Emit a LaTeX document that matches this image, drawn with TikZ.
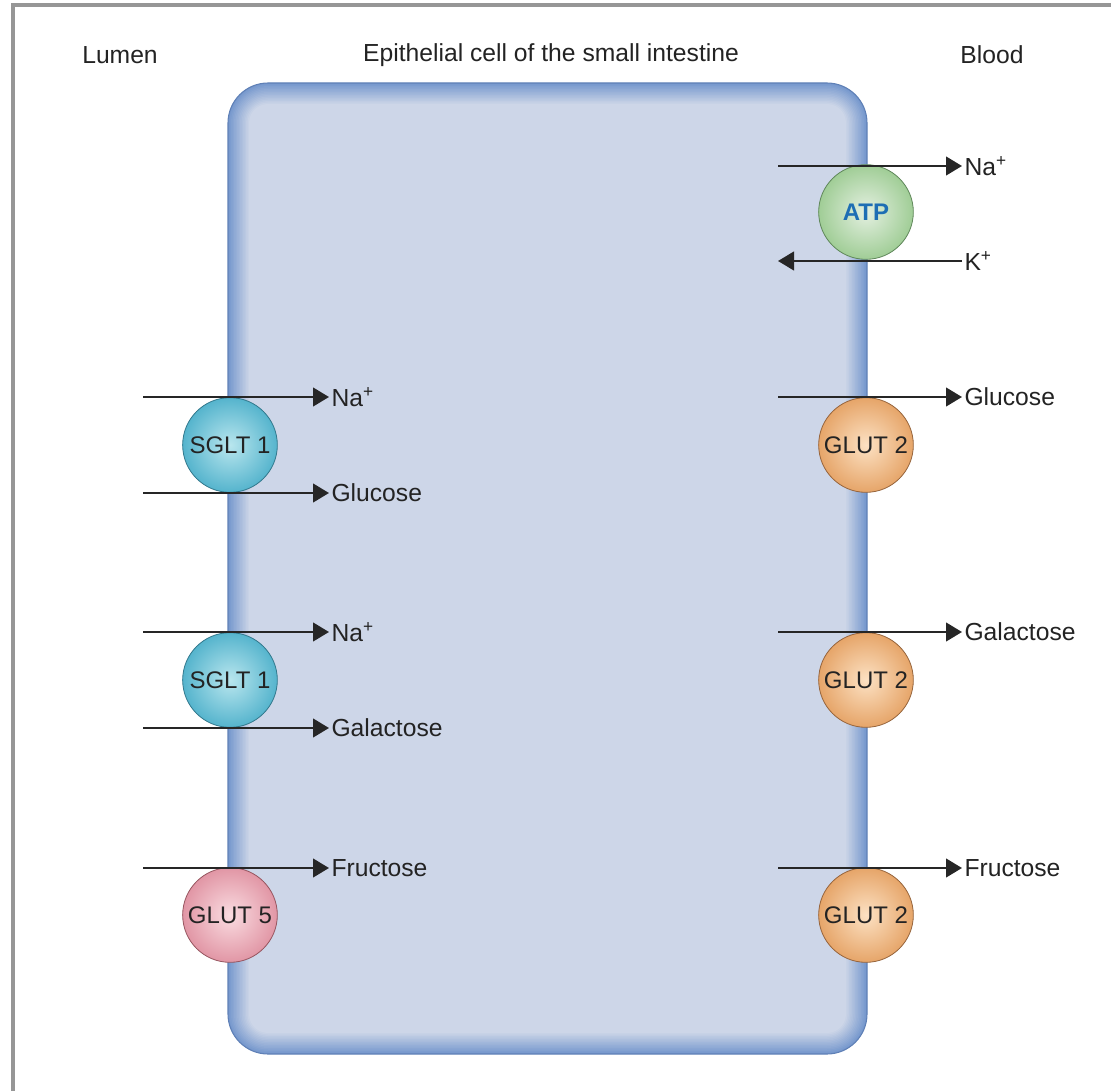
\documentclass[tikz,border=0pt]{standalone}
\usepackage{fontspec}
\setmainfont{Liberation Sans}
\usetikzlibrary{arrows.meta}

\definecolor{frameGray}{RGB}{150,150,150}
\definecolor{cellEdge}{RGB}{118,152,205}
\definecolor{cellFill}{RGB}{205,214,232}
\definecolor{cellLine}{RGB}{95,128,182}
\definecolor{txtGray}{RGB}{35,35,35}
\definecolor{sgltIn}{RGB}{185,230,238}
\definecolor{sgltOut}{RGB}{85,180,205}
\definecolor{sgltLine}{RGB}{50,120,140}
\definecolor{glutFiveIn}{RGB}{250,220,225}
\definecolor{glutFiveOut}{RGB}{225,150,165}
\definecolor{glutFiveLine}{RGB}{150,85,95}
\definecolor{glutTwoIn}{RGB}{252,225,195}
\definecolor{glutTwoOut}{RGB}{230,165,105}
\definecolor{glutTwoLine}{RGB}{150,100,60}
\definecolor{atpIn}{RGB}{228,240,225}
\definecolor{atpOut}{RGB}{160,205,150}
\definecolor{atpLine}{RGB}{95,135,90}
\definecolor{atpText}{RGB}{30,110,180}

\tikzset{every picture/.style={line width=0.75pt}}
\tikzset{
  lbl/.style={font=\fontsize{18.5}{22}\selectfont, text=txtGray, anchor=west, inner sep=1.5pt},
  head/.style={font=\fontsize{18.5}{22}\selectfont, text=txtGray},
  flow/.style={line width=1.7pt, draw=black!85, -{Triangle[length=12pt,width=14pt]}},
  carrier/.style={circle, minimum size=71pt, inner sep=0pt, line width=0.6pt,
    font=\fontsize{18}{22}\selectfont, text=txtGray},
  sglt/.style={carrier, draw=sgltLine, inner color=sgltIn, outer color=sgltOut},
  glutfive/.style={carrier, draw=glutFiveLine, inner color=glutFiveIn, outer color=glutFiveOut},
  gluttwo/.style={carrier, draw=glutTwoLine, inner color=glutTwoIn, outer color=glutTwoOut},
  atpump/.style={carrier, draw=atpLine, inner color=atpIn, outer color=atpOut,
    font=\fontsize{18}{22}\selectfont\bfseries, text=atpText},
}

\begin{document}
\begin{tikzpicture}[x=0.75pt,y=0.75pt,yscale=-1,xscale=1]
\useasboundingbox (0,0) rectangle (1111,1091);

%Frame
\draw [frameGray, line width=2.5pt] (13,1091) -- (13,5) -- (1111,5) ;

%Cell body with soft edge
\foreach \i in {0,...,14}{
  \pgfmathsetmacro{\d}{\i*1.5}
  \pgfmathsetmacro{\p}{\i*100/14}
  \fill [cellFill!\p!cellEdge, rounded corners={(40-\d)*0.75pt}] (228+\d,83+\d) rectangle (867-\d,1054-\d) ;
}
\draw [cellLine, line width=0.8pt, rounded corners=30pt] (228,83) rectangle (867,1054) ;

%Headings
\node [head] (lumen) at (120,55) {Lumen};
\node [head] (cell) at (551,55) {Epithelial cell of the small intestine};
\node [head] (blood) at (992,55) {Blood};

%Carriers
\node [atpump] (atp) at (866,212) {ATP};
\node [sglt] (sgltA) at (230,445) {SGLT 1};
\node [sglt] (sgltB) at (230,680) {SGLT 1};
\node [glutfive] (glutF) at (230,915) {GLUT 5};
\node [gluttwo] (glutA) at (866,445) {GLUT 2};
\node [gluttwo] (glutB) at (866,680) {GLUT 2};
\node [gluttwo] (glutC) at (866,915) {GLUT 2};

%Labels, lumen side
\node [lbl] (naA) at (329,397) {Na\textsuperscript{+}};
\node [lbl] (gluA) at (329,493) {Glucose};
\node [lbl] (naB) at (329,632) {Na\textsuperscript{+}};
\node [lbl] (galA) at (329,728) {Galactose};
\node [lbl] (fruA) at (329,868) {Fructose};

%Labels, blood side
\node [lbl] (naC) at (962,166) {Na\textsuperscript{+}};
\node [lbl] (kC) at (962,261) {K\textsuperscript{+}};
\node [lbl] (gluB) at (962,397) {Glucose};
\node [lbl] (galB) at (962,632) {Galactose};
\node [lbl] (fruB) at (962,868) {Fructose};

%Free ends
\coordinate (naAs) at (143,397);
\coordinate (gluAs) at (143,493);
\coordinate (naBs) at (143,632);
\coordinate (galAs) at (143,728);
\coordinate (fruAs) at (143,868);
\coordinate (naCs) at (778,166);
\coordinate (kCe) at (778,261);
\coordinate (gluBs) at (778,397);
\coordinate (galBs) at (778,632);
\coordinate (fruBs) at (778,868);

%Arrows
\draw [flow] (naAs) -- (naA.west) ;
\draw [flow] (gluAs) -- (gluA.west) ;
\draw [flow] (naBs) -- (naB.west) ;
\draw [flow] (galAs) -- (galA.west) ;
\draw [flow] (fruAs) -- (fruA.west) ;
\draw [flow] (naCs) -- (naC.west) ;
\draw [flow] (kC.west) -- (kCe) ;
\draw [flow] (gluBs) -- (gluB.west) ;
\draw [flow] (galBs) -- (galB.west) ;
\draw [flow] (fruBs) -- (fruB.west) ;

\end{tikzpicture}
\end{document}
